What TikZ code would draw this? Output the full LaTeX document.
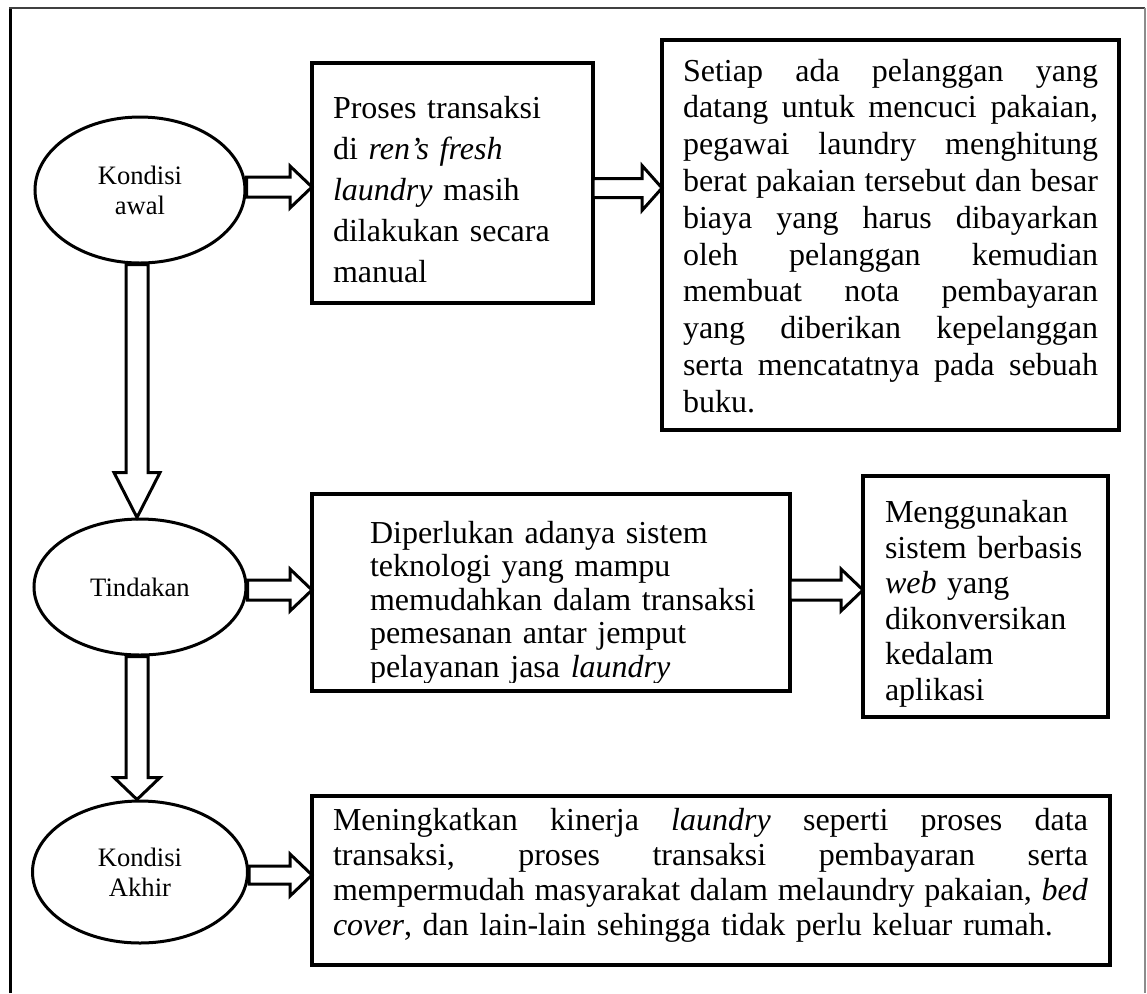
\documentclass[tikz,border=0pt]{standalone}
\usepackage{fontspec}
\setmainfont{Liberation Serif}
\usetikzlibrary{calc,shapes.geometric}

% one justified line of a text block (spaces made stretchable again)
\newcommand\J[1]{\makebox[\linewidth][s]{\spaceskip=0pt\xspaceskip=0pt #1}}

\tikzset{
  ell/.style={ellipse, draw, line width=1.5pt, inner sep=0pt, align=center,
    font=\fontsize{13.3}{15}\selectfont},
  box/.style={rectangle, draw, line width=2pt, inner sep=0pt, outer sep=0pt},
  txt/.style={anchor=base west, inner sep=0pt, outer sep=0pt, align=left,
    font=\fontsize{16}{18.4}\selectfont},
  blk/.style={draw, line width=1.5pt, fill=white, line join=miter},
}

% block arrow pointing right: start, tip, body half-height, head half-height, head length
\newcommand\hblock[5]{%
  \draw[blk] ($(#1)+(0,-#3)$) -- ($(#2)+(-#5,-#3)$) -- ($(#2)+(-#5,-#4)$) -- (#2)
    -- ($(#2)+(-#5,#4)$) -- ($(#2)+(-#5,#3)$) -- ($(#1)+(0,#3)$) -- cycle;}
% block arrow pointing down: start, tip, body half-width, head half-width, head length
\newcommand\vblock[5]{%
  \draw[blk] ($(#1)+(-#3,0)$) -- ($(#2)+(-#3,-#5)$) -- ($(#2)+(-#4,-#5)$) -- (#2)
    -- ($(#2)+(#4,-#5)$) -- ($(#2)+(#3,-#5)$) -- ($(#1)+(#3,0)$) -- cycle;}

\begin{document}
\begin{tikzpicture}[x=0.5pt,y=-0.5pt]
\useasboundingbox (0,0) rectangle (1147,993);

% page frame
\draw[line width=1.5pt] (10,993) -- (10,7.5);
\draw[line width=1pt, black!75] (9.25,7.5) -- (1145,7.5);
\draw[line width=0.6pt, black!45] (1145,7.5) -- (1145,993);

% stages
\node[ell, minimum width=105pt, minimum height=73pt] (e1) at (140,190) {Kondisi\\awal};
\node[ell, minimum width=106pt, minimum height=68pt] (e2) at (140,587) {Tindakan};
\node[ell, minimum width=107.5pt, minimum height=71pt] (e3) at (140,872) {Kondisi\\Akhir};

% description boxes
\node[box, minimum width=140.5pt, minimum height=120pt] (b1) at (452.5,183) {};
\node[box, minimum width=228.5pt, minimum height=195pt] (b2) at (890.5,235) {};
\node[box, minimum width=239pt, minimum height=98.5pt] (b3) at (551,592.5) {};
\node[box, minimum width=122.5pt, minimum height=120.5pt] (b4) at (985.5,596.5) {};
\node[box, minimum width=399pt, minimum height=84.5pt] (b5) at (711,880.5) {};

% box texts
\node[txt, text width=125pt, font=\fontsize{16}{20.5}\selectfont] (t1) at (333,118)
  {Proses transaksi\\di \textit{ren’s fresh}\\\textit{laundry} masih\\dilakukan secara\\manual};

\node[txt, text width=207.5pt] (t2) at (683,81)
  {\J{Setiap ada pelanggan yang}\\
   \J{datang untuk mencuci pakaian,}\\
   \J{pegawai laundry menghitung}\\
   \J{berat pakaian tersebut dan besar}\\
   \J{biaya yang harus dibayarkan}\\
   \J{oleh pelanggan kemudian}\\
   \J{membuat nota pembayaran}\\
   \J{yang diberikan kepelanggan}\\
   \J{serta mencatatnya pada sebuah}\\
   buku.};

\begin{scope}
  \clip (312,494) rectangle (790,682);
  \node[txt, text width=205pt, font=\fontsize{16}{16.75}\selectfont] (t3) at (370,543)
    {Diperlukan adanya sistem\\teknologi yang mampu\\memudahkan dalam transaksi\\
     pemesanan antar jemput\\pelayanan jasa \textit{laundry}};
\end{scope}

\begin{scope}
  \clip (863,476) rectangle (1108,706);
  \node[txt, text width=110pt, font=\fontsize{16}{17.75}\selectfont] (t4) at (885,522.5)
    {Menggunakan\\sistem berbasis\\\textit{web} yang\\dikonversikan\\kedalam\\aplikasi};
\end{scope}

\node[txt, text width=377.5pt, font=\fontsize{16}{17.5}\selectfont] (t5) at (333,830)
  {\J{Meningkatkan kinerja \textit{laundry} seperti proses data}\\
   \J{transaksi, proses transaksi pembayaran serta}\\
   \J{mempermudah masyarakat dalam melaundry pakaian, \textit{bed}}\\
   \textit{cover}, dan lain-lain sehingga tidak perlu keluar rumah.};

% arrow levels
\coordinate (a1) at (0,187);
\coordinate (a2) at (0,188);
\coordinate (a3) at (0,590);
\coordinate (a4) at (0,590);
\coordinate (a5) at (0,875);
\coordinate (ax) at (137,0);

\coordinate (s1) at (e1.east |- a1); \coordinate (d1) at (b1.west |- a1);
\coordinate (s2) at (b1.east |- a2); \coordinate (d2) at (b2.west |- a2);
\coordinate (s3) at (e2.east |- a3); \coordinate (d3) at (b3.west |- a3);
\coordinate (s4) at (b3.east |- a4); \coordinate (d4) at (b4.west |- a4);
\coordinate (s5) at (e3.east |- a5); \coordinate (d5) at (b5.west |- a5);
\coordinate (v1s) at (ax |- e1.south); \coordinate (v1e) at (ax |- e2.north);
\coordinate (v2s) at (ax |- e2.south); \coordinate (v2e) at (ax |- e3.north);

\hblock{s1}{d1}{10}{21}{22}
\hblock{s2}{d2}{9.5}{22.5}{20}
\hblock{s3}{d3}{10}{21}{22}
\hblock{s4}{d4}{10}{21}{22}
\hblock{s5}{d5}{9}{21}{22}
\vblock{v1s}{v1e}{11}{23}{45}
\vblock{v2s}{v2e}{11}{23}{22}
\end{tikzpicture}
\end{document}
